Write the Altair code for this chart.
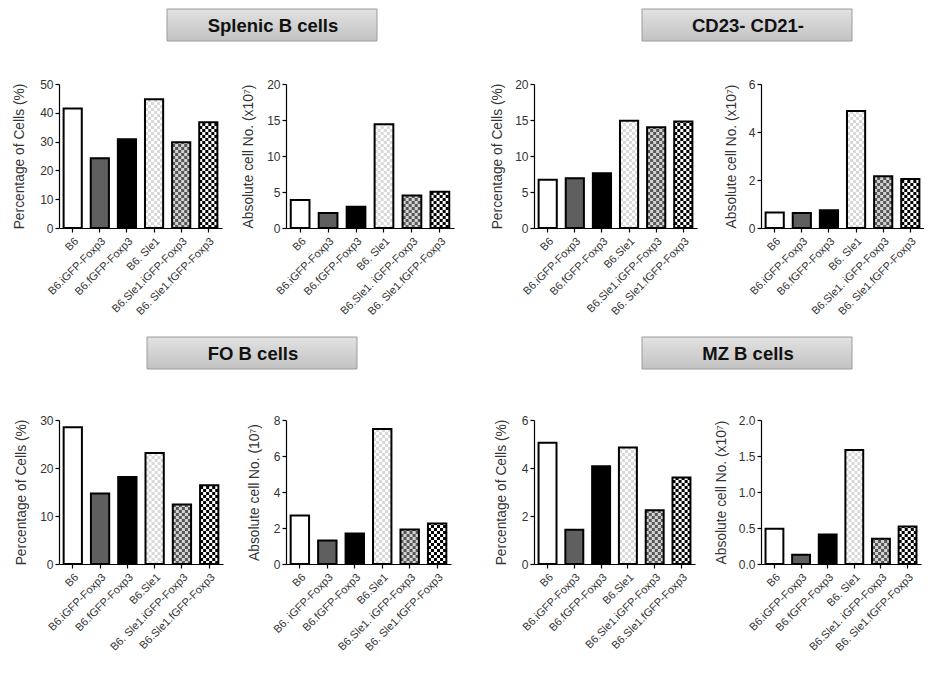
import math
import altair as alt
import pandas as pd

# ---------------- data ----------------
labels_p1 = ["B6", "B6.iGFP-Foxp3", "B6.fGFP-Foxp3", "B6. Sle1", "B6.Sle1.iGFP-Foxp3", "B6. Sle1.fGFP-Foxp3"]
labels_p2 = ["B6", "B6.iGFP-Foxp3", "B6.fGFP-Foxp3", "B6. Sle1", "B6.Sle1. iGFP-Foxp3", "B6. Sle1.fGFP-Foxp3"]
labels_p3 = ["B6", "B6.iGFP-Foxp3", "B6.fGFP-Foxp3", "B6.Sle1", "B6.Sle1.iGFP-Foxp3", "B6. Sle1.fGFP-Foxp3"]
labels_p4 = ["B6", "B6.iGFP-Foxp3", "B6.fGFP-Foxp3", "B6. Sle1", "B6.Sle1. iGFP-Foxp3", "B6. Sle1.fGFP-Foxp3"]
labels_p5 = ["B6", "B6.iGFP-Foxp3", "B6.fGFP-Foxp3", "B6.Sle1", "B6. Sle1.iGFP-Foxp3", "B6.Sle1.fGFP-Foxp3"]
labels_p6 = ["B6", "B6. iGFP-Foxp3", "B6.fGFP-Foxp3", "B6.Sle1", "B6.Sle1. iGFP-Foxp3", "B6. Sle1.fGFP-Foxp3"]
labels_p7 = ["B6", "B6.iGFP-Foxp3", "B6.fGFP-Foxp3", "B6.Sle1", "B6.Sle1.iGFP-Foxp3", "B6.Sle1.fGFP-Foxp3"]
labels_p8 = ["B6", "B6.iGFP-Foxp3", "B6.fGFP-Foxp3", "B6. Sle1", "B6.Sle1. iGFP-Foxp3", "B6. Sle1.fGFP-Foxp3"]

splenic_pct = [41.5, 24.2, 30.8, 44.7, 29.8, 36.7]
splenic_abs = [3.9, 2.1, 2.95, 14.4, 4.5, 5.05]
cd23_pct = [6.7, 6.9, 7.6, 14.9, 14.0, 14.8]
cd23_abs = [0.65, 0.62, 0.74, 4.87, 2.16, 2.04]
fo_pct = [28.5, 14.7, 18.1, 23.1, 12.4, 16.4]
fo_abs = [2.7, 1.3, 1.7, 7.5, 1.92, 2.25]
mz_pct = [5.05, 1.43, 4.07, 4.85, 2.24, 3.6]
mz_abs = [0.49, 0.13, 0.41, 1.585, 0.35, 0.52]

ticks_splenic_pct = [0, 10, 20, 30, 40, 50]
ticks_splenic_abs = [0, 5, 10, 15, 20]
ticks_cd23_pct = [0, 5, 10, 15, 20]
ticks_cd23_abs = [0, 2, 4, 6]
ticks_fo_pct = [0, 10, 20, 30]
ticks_fo_abs = [0, 2, 4, 6, 8]
ticks_mz_pct = [0, 2, 4, 6]
ticks_mz_abs = [0.0, 0.5, 1.0, 1.5, 2.0]

title_pct = "Percentage of Cells (%)"
title_abs = "Absolute cell No. (x10\u2077)"
title_abs_fo = "Absolute cell No. (10\u2077)"

group_titles = ["Splenic B cells", "CD23- CD21-", "FO B cells", "MZ B cells"]

# ---------------- styles ----------------
FONT = "Liberation Sans, Arial, sans-serif"
H = 144
CELL = 3.0
base_fill = ["#ffffff", "#5f5f5f", "#000000", "#ffffff", "#d4d4d4", "#ffffff"]
check_fill = [None, None, None, "#d8d8d8", "#575757", "#000000"]

COL_W = [207, 228, 207, 163]


def checker_cells(values, labels, ymax):
    dy = ymax * CELL / H
    rows = []
    for i, v in enumerate(values):
        if check_fill[i] is None:
            continue
        n = math.ceil(v / dy)
        for k in range(n):
            for c in range(6):
                if (k + c) % 2 == 1:
                    rows.append({"label": labels[i], "c": c, "y0": k * dy,
                                 "y1": min((k + 1) * dy, v), "col": check_fill[i]})
    return pd.DataFrame(rows)


def panel(values, labels, ymax, ticks, ytitle, fmt, col, plot_w, title_dx, box=None):
    df = pd.DataFrame({"label": labels, "value": values, "fill": base_fill})
    xscale = alt.Scale(range=[0, plot_w], paddingInner=0.33, paddingOuter=0.17)
    xaxis = alt.Axis(labelAngle=-45, labelFontSize=11, labelFont=FONT, labelColor="#333",
                     labelOverlap=False, labelPadding=3, tickSize=4, tickColor="#000",
                     domainColor="#000", domainWidth=1.2, tickWidth=1.2, ticks=True)
    yscale = alt.Scale(domain=[0, ymax], nice=False, zero=True)
    yaxis = alt.Axis(values=ticks, format=fmt, title=ytitle, titleFont=FONT, titleFontSize=13.8,
                     titleFontWeight="normal", titleColor="#333", titleAngle=270,
                     titleAlign="center", titleBaseline="middle", titleX=-title_dx, titleY=H / 2,
                     labelFont=FONT, labelFontSize=12, labelColor="#333", labelPadding=2,
                     tickSize=4, tickColor="#000", tickWidth=1.2, domainColor="#000",
                     domainWidth=1.2, grid=False)
    x = alt.X("label:N", sort=labels, title=None, scale=xscale, axis=xaxis)

    bars = alt.Chart(df).mark_bar().encode(
        x=x,
        y=alt.Y("value:Q", scale=yscale, axis=yaxis),
        fill=alt.Fill("fill:N", scale=None),
    )
    cells = alt.Chart(checker_cells(values, labels, ymax)).mark_bar().encode(
        x=x,
        xOffset=alt.XOffset("c:O", scale=alt.Scale(paddingInner=0, paddingOuter=0)),
        y=alt.Y("y0:Q", scale=yscale, axis=yaxis),
        y2="y1:Q",
        fill=alt.Fill("col:N", scale=None),
    )
    outline = alt.Chart(df).mark_bar(fillOpacity=0, stroke="#000", strokeWidth=2).encode(
        x=x,
        y=alt.Y("value:Q", scale=yscale, axis=yaxis),
    )
    layers = [bars, cells, outline]
    if box is not None:
        txt, bx0, by0 = box
        bx1, by1 = bx0 + 210, by0 + 32
        bdf = pd.DataFrame({"t": [txt]})
        rect = alt.Chart(bdf).mark_rect(
            fill=alt.LinearGradient(gradient="linear",
                                    stops=[alt.GradientStop(offset=0, color="#e2e2e2"),
                                           alt.GradientStop(offset=1, color="#c2c2c2")],
                                    x1=0, x2=0, y1=0, y2=1),
            stroke="#9c9c9c", strokeWidth=1,
        ).encode(x=alt.value(bx0), x2=alt.value(bx1), y=alt.value(by0), y2=alt.value(by1))
        text = alt.Chart(bdf).mark_text(font=FONT, fontSize=18.5, fontWeight="bold",
                                        color="#111").encode(
            x=alt.value((bx0 + bx1) / 2 + 1), y=alt.value((by0 + by1) / 2 + 1), text="t:N")
        layers += [rect, text]
    return alt.layer(*layers).properties(width=COL_W[col], height=H)


panels = [
    panel(splenic_pct, labels_p1, 50, ticks_splenic_pct, title_pct, "d", 0, 163, 40,
          (group_titles[0], 108, -75)),
    panel(splenic_abs, labels_p2, 20, ticks_splenic_abs, title_abs, "d", 1, 168, 38),
    panel(cd23_pct, labels_p3, 20, ticks_cd23_pct, title_pct, "d", 2, 163, 37,
          (group_titles[1], 108, -75)),
    panel(cd23_abs, labels_p4, 6, ticks_cd23_abs, title_abs, "d", 3, 163, 30),
    panel(fo_pct, labels_p5, 30, ticks_fo_pct, title_pct, "d", 0, 164, 38,
          (group_titles[2], 88, -83)),
    panel(fo_abs, labels_p6, 8, ticks_fo_abs, title_abs_fo, "d", 1, 165, 32),
    panel(mz_pct, labels_p7, 6, ticks_mz_pct, title_pct, "d", 2, 161, 33,
          (group_titles[3], 108, -83)),
    panel(mz_abs, labels_p8, 2, ticks_mz_abs, title_abs, ".1f", 3, 160, 40),
]

chart = alt.concat(*panels, columns=4, spacing={"row": 192, "column": 20},
                   bounds="flush").properties(
    padding={"left": 4, "top": 0, "right": 0, "bottom": 0},
    background="white",
).configure_view(stroke=None)

chart.save("out.html", embed_options={"renderer": "svg", "actions": False})
